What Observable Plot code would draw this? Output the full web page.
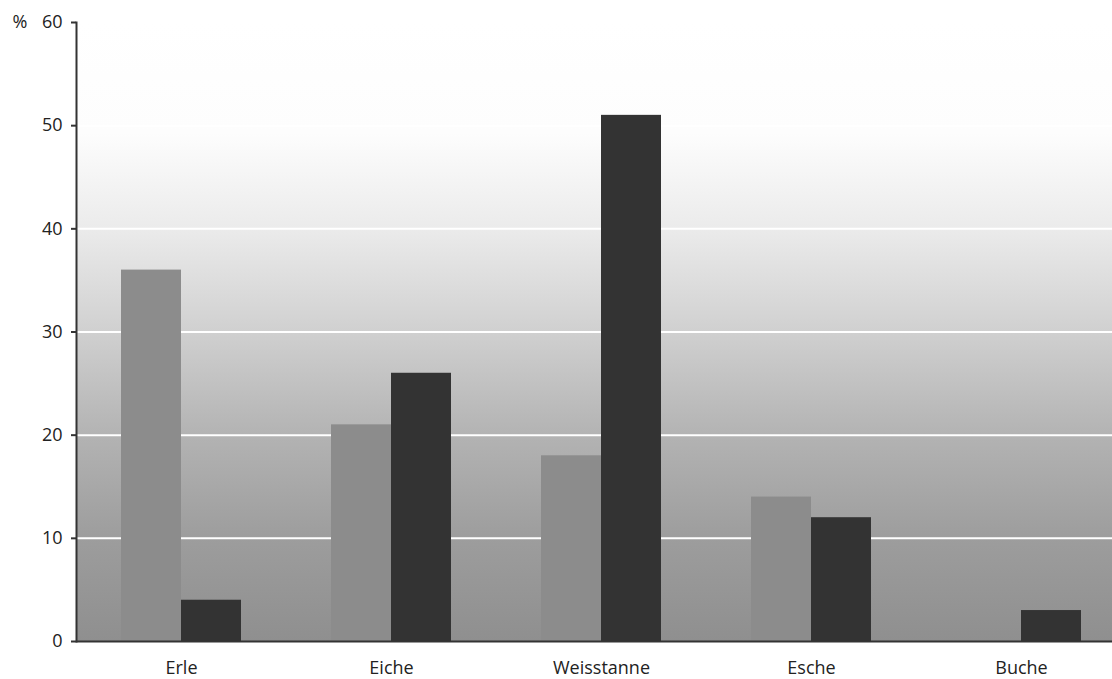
<!DOCTYPE html>
<html>
<head>
<meta charset="utf-8">
<script src="https://cdn.jsdelivr.net/npm/d3@7"></script>
<script src="https://cdn.jsdelivr.net/npm/@observablehq/plot@0.6"></script>
<style>
  html, body { margin: 0; padding: 0; background: #ffffff; }
  #chart svg { display: block; overflow: visible; }
</style>
</head>
<body>
<div id="chart"></div>
<script>
const categories = ["Erle", "Eiche", "Weisstanne", "Esche", "Buche"];
const seriesLight = [36, 21, 18, 14, 0];
const seriesDark = [4, 26, 51, 12, 3];
const yTicks = [0, 10, 20, 30, 40, 50, 60];
const gridTicks = [10, 20, 30, 40, 50];

const lightData = categories.map((c, i) => ({cat: c, value: seriesLight[i]}));
const darkData = categories.map((c, i) => ({cat: c, value: seriesDark[i]}));

const W = 1112, H = 679;
const mL = 76, mT = 22, mB = 38;

function background(index, scales, values, dimensions) {
  const {width, height, marginLeft, marginTop, marginBottom, marginRight} = dimensions;
  const g = d3.create("svg:g");
  const grad = g.append("defs").append("linearGradient")
    .attr("id", "bggrad").attr("x1", 0).attr("y1", 0).attr("x2", 0).attr("y2", 1);
  [[0, "#ffffff"], [0.18, "#fdfdfd"], [0.333, "#ebebeb"], [0.5, "#d0d0d0"],
   [0.667, "#b3b3b3"], [0.833, "#9d9d9d"], [1, "#8f8f8f"]].forEach(([o, c]) =>
    grad.append("stop").attr("offset", o).attr("stop-color", c));
  g.append("rect")
    .attr("x", marginLeft).attr("y", marginTop)
    .attr("width", width - marginLeft - marginRight)
    .attr("height", height - marginTop - marginBottom)
    .attr("fill", "url(#bggrad)");
  return g.node();
}

const plot = Plot.plot({
  width: W,
  height: H,
  marginLeft: mL,
  marginRight: 0,
  marginTop: mT,
  marginBottom: mB,
  style: {fontFamily: "'Open Sans', sans-serif", fontSize: "18px", color: "#222", background: "transparent"},
  x: {domain: categories, range: [mL, 1126], padding: 0, label: null},
  y: {domain: [0, 60], label: null},
  marks: [
    background,
    Plot.gridY(gridTicks, {stroke: "#ffffff", strokeOpacity: 1, strokeWidth: 2}),
    Plot.barY(lightData, {x: "cat", y: "value", fill: "#8c8c8c", dx: -30, insetLeft: 75, insetRight: 75}),
    Plot.barY(darkData, {x: "cat", y: "value", fill: "#333333", dx: 30, insetLeft: 75, insetRight: 75}),
    Plot.axisY(yTicks, {tickSize: 5, tickPadding: 9, stroke: "#333", strokeWidth: 2, fill: "#222", fontSize: 18, label: null}),
    Plot.axisX({tickSize: 0, tickPadding: 20, fill: "#222", fontSize: 18, label: null}),
    Plot.frame({anchor: "left", stroke: "#333", strokeWidth: 2}),
    Plot.ruleY([0], {stroke: "#333", strokeWidth: 2}),
    Plot.text(["%"], {y: [60], frameAnchor: "left", dx: -64, textAnchor: "start", fill: "#222", fontSize: 18})
  ]
});
document.getElementById("chart").appendChild(plot);
</script>
</body>
</html>
